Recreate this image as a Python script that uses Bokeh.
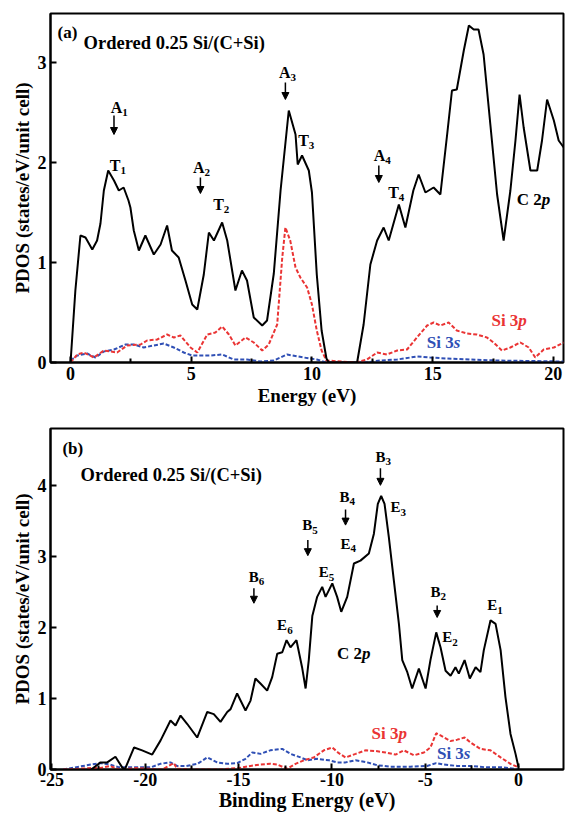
from bokeh.plotting import figure
from bokeh.layouts import column
from bokeh.models import (Range1d, FixedTicker, Arrow, NormalHead, ColumnDataSource)
from bokeh.core.properties import value
from bokeh.embed import file_html
from bokeh.resources import INLINE

# ---------------- data: panel (a) ----------------
a_c2p_e = [0, 0.2, 0.41, 0.62, 0.9, 1.1, 1.24, 1.38, 1.56, 1.8, 2.0, 2.2, 2.4, 2.48, 2.62, 2.83,
           3.1, 3.45, 3.73, 4.0, 4.2, 4.48, 4.76, 5.04, 5.25, 5.52, 5.73, 5.94, 6.28, 6.49, 6.83,
           7.1, 7.31, 7.59, 7.94, 8.14, 8.42, 8.7, 9.04, 9.32, 9.41, 9.59, 9.87, 10.0, 10.2, 10.4,
           10.6, 10.7, 11.87, 12.14, 12.42, 12.7, 12.97, 13.18, 13.6, 13.87, 14.2, 14.42, 14.7,
           15.04, 15.32, 15.6, 15.8, 16.0, 16.29, 16.5, 16.7, 16.9, 17.11, 17.39, 17.67, 17.94,
           18.22, 18.43, 18.6, 18.77, 19.05, 19.33, 19.53, 19.74, 20.02, 20.22, 20.43]
a_c2p_v = [0, 0.72, 1.27, 1.25, 1.13, 1.22, 1.39, 1.72, 1.92, 1.82, 1.72, 1.75, 1.62, 1.55, 1.32, 1.12,
           1.27, 1.08, 1.18, 1.37, 1.12, 1.05, 0.82, 0.58, 0.53, 0.88, 1.3, 1.22, 1.4, 1.22, 0.72,
           0.92, 0.82, 0.45, 0.37, 0.42, 0.89, 1.72, 2.52, 2.28, 1.98, 2.07, 1.92, 1.7, 0.88, 0.32,
           0.04, 0, 0, 0.38, 0.98, 1.22, 1.35, 1.22, 1.58, 1.35, 1.72, 1.88, 1.70,
           1.75, 1.68, 2.28, 2.72, 2.73, 3.12, 3.37, 3.33, 3.33, 3.08, 2.38, 1.68, 1.22,
           1.72, 2.22, 2.68, 2.35, 1.92, 1.92, 2.22, 2.63, 2.42, 2.22, 2.15]

a_si3p_e = [0, 0.28, 0.55, 0.97, 1.38, 1.93, 2.34, 2.9, 3.17, 3.59, 4.0, 4.28, 4.55, 4.97, 5.25, 5.66,
            6.0, 6.28, 6.56, 6.83, 7.25, 7.59, 7.94, 8.21, 8.56, 8.77, 8.9, 9.1, 9.32, 9.52, 9.8,
            10.0, 10.2, 10.4, 10.6, 11.8, 12.28, 12.7, 13.1, 13.53, 13.94, 14.35, 14.77, 15.04,
            15.32, 15.66, 16.0, 16.41, 16.83, 17.25, 17.52, 17.87, 18.22, 18.63, 18.98, 19.25,
            19.6, 20.02, 20.43]
a_si3p_v = [0, 0.08, 0.10, 0.05, 0.12, 0.10, 0.17, 0.18, 0.22, 0.23, 0.28, 0.25, 0.27, 0.15, 0.10, 0.28,
            0.30, 0.36, 0.28, 0.17, 0.25, 0.20, 0.12, 0.18, 0.38, 1.05, 1.35, 1.22, 0.95, 0.85, 0.75,
            0.58, 0.32, 0.12, 0.02, 0, 0.03, 0.10, 0.08, 0.12, 0.13, 0.25, 0.37, 0.40,
            0.37, 0.40, 0.32, 0.29, 0.28, 0.25, 0.20, 0.12, 0.15, 0.20, 0.15, 0.05,
            0.13, 0.15, 0.20]

a_si3s_e = [0, 0.28, 0.69, 1.03, 1.38, 1.8, 2.28, 2.62, 3.03, 3.45, 3.86, 4.28, 4.69, 5.04, 5.38, 5.8,
            6.28, 6.76, 7.31, 7.87, 8.42, 8.97, 9.66, 10.2, 10.6, 12.2, 12.84, 13.53, 14.35, 14.9,
            15.6, 16.55, 17.66, 20.43]
a_si3s_v = [0.02, 0.07, 0.09, 0.05, 0.11, 0.13, 0.18, 0.18, 0.15, 0.17, 0.19, 0.15, 0.10, 0.07, 0.07, 0.07,
            0.08, 0.03, 0.03, 0.01, 0.02, 0.08, 0.05, 0.03, 0.0, 0.0, 0.02, 0.03, 0.06, 0.05,
            0.04, 0.03, 0.02, 0.01]

# ---------------- data: panel (b) ----------------
b_c2p_e = [-22.9, -22.4, -22.04, -21.6, -21.24, -21.1, -20.6, -20.17, -19.63, -19.18, -18.65, -18.38,
           -18.11, -17.75, -17.22, -16.68, -16.33, -15.97, -15.61, -15.43, -15.08, -14.63, -14.36,
           -14.1, -13.83, -13.47, -13.2, -12.93, -12.66, -12.43, -12.22, -11.9, -11.6, -11.41,
           -11.24, -11.05, -10.79, -10.52, -10.34, -9.98, -9.72, -9.5, -9.18, -8.82, -8.47, -8.02,
           -7.75, -7.54, -7.36, -7.18, -6.95, -6.68, -6.41, -6.23, -5.96, -5.7, -5.34, -4.98,
           -4.72, -4.41, -4.18, -3.91, -3.64, -3.38, -3.2, -2.89, -2.61, -2.3, -2.04, -1.86, -1.5,
           -1.23, -0.96, -0.7, -0.43, -0.16, 0.0]
b_c2p_v = [0.0, 0.1, 0.1, 0.18, 0.03, 0.0, 0.31, 0.27, 0.21, 0.41, 0.69, 0.62,
           0.76, 0.64, 0.45, 0.81, 0.78, 0.67, 0.81, 0.85, 1.07, 0.83, 0.97,
           1.28, 1.21, 1.11, 1.30, 1.63, 1.65, 1.82, 1.72, 1.82, 1.44, 1.14,
           1.54, 2.16, 2.43, 2.57, 2.43, 2.62, 2.43, 2.22, 2.43, 2.90, 2.94, 3.04,
           3.32, 3.74, 3.85, 3.74, 3.27, 2.66, 2.05, 1.54, 1.37, 1.14, 1.42, 1.14,
           1.54, 1.93, 1.72, 1.39, 1.32, 1.44, 1.35, 1.54, 1.28, 1.44, 1.37, 1.68, 2.10,
           2.05, 1.68, 1.02, 0.50, 0.22, 0.03]

b_si3p_e = [-24.4, -22.9, -22.4, -21.9, -21.4, -20.5, -19.1, -18.47, -18.3, -17.5, -16.1, -15.0,
            -14.36, -13.83, -13.3, -12.93, -12.4, -11.95, -11.5, -10.97, -10.43, -9.98, -9.63,
            -9.27, -8.73, -8.2, -7.66, -7.13, -6.59, -6.15, -5.6, -5.07, -4.72, -4.41, -4.18,
            -3.64, -3.29, -2.89, -2.57, -2.04, -1.5, -0.96, -0.43, 0.0]
b_si3p_v = [0.0, 0.02, 0.02, 0.05, 0.0, 0.02, 0.0, 0.09, 0.01, 0.0, 0.0, 0.02,
            0.05, 0.07, 0.08, 0.07, 0.01, 0.08, 0.13, 0.17, 0.27, 0.31, 0.23,
            0.17, 0.22, 0.27, 0.26, 0.24, 0.21, 0.27, 0.20, 0.24, 0.31, 0.51, 0.48,
            0.40, 0.42, 0.45, 0.38, 0.29, 0.27, 0.17, 0.08, 0.03]

b_si3s_e = [-24.4, -22.9, -22.4, -21.9, -21.4, -19.7, -19.2, -18.65, -18.3, -17.8, -17.2, -16.68,
            -16.15, -15.6, -15.08, -14.63, -14.27, -13.83, -13.3, -12.66, -12.22, -11.68, -11.32,
            -10.79, -10.16, -9.72, -9.27, -8.73, -8.1, -7.57, -6.86, -5.8, -4.9, -4.41, -4.0,
            -3.29, -2.57, -1.7, -0.8, 0.0]
b_si3s_v = [0.0, 0.07, 0.09, 0.07, 0.03, 0.03, 0.08, 0.10, 0.05, 0.05, 0.08, 0.17,
            0.10, 0.08, 0.09, 0.15, 0.24, 0.22, 0.27, 0.29, 0.22, 0.17, 0.13,
            0.15, 0.13, 0.10, 0.10, 0.13, 0.10, 0.06, 0.04, 0.04, 0.05, 0.09, 0.07,
            0.05, 0.05, 0.03, 0.03, 0.0]

# ---------------- ticks ----------------
a_xticks = [0, 5, 10, 15, 20]
a_xlabels = ["0", "5", "10", "15", "20"]
a_xminor = [2.5, 7.5, 12.5, 17.5]
a_yticks = [0, 1, 2, 3]
a_ylabels = ["0", "1", "2", "3"]
b_xticks = [-25, -20, -15, -10, -5, 0]
b_xlabels = ["-25", "-20", "-15", "-10", "-5", "0"]
b_xminor = [-22.5, -17.5, -12.5, -7.5, -2.5]
b_yticks = [0, 1, 2, 3, 4]
b_ylabels = ["0", "1", "2", "3", "4"]

# ---------------- annotations ----------------
a_mark_main = ["A", "T", "A", "T", "A", "T", "A", "T"]
a_mark_sub = ["1", "1", "2", "2", "3", "3", "4", "4"]
a_mark_x = [2.14, 2.07, 5.55, 6.35, 9.11, 9.87, 13.04, 13.6]
a_mark_y = [2.55, 1.97, 1.95, 1.58, 2.90, 2.22, 2.07, 1.70]
a_arrow_x = [1.8, 5.38, 8.9, 12.77]
a_arrow_y0 = [2.47, 1.85, 2.80, 1.97]
a_arrow_y1 = [2.28, 1.69, 2.63, 1.80]

b_mark_main = ["B", "E", "B", "E", "B", "E", "B", "E", "B", "E", "E"]
b_mark_sub = ["6", "6", "5", "5", "4", "4", "3", "3", "2", "2", "1"]
b_mark_x = [-13.92, -12.4, -11.06, -10.17, -9.06, -9.0, -7.13, -6.32, -4.18, -3.55, -1.14]
b_mark_y = [2.71, 2.03, 3.44, 2.78, 3.84, 3.18, 4.40, 3.69, 2.50, 1.86, 2.31]
b_arrow_x = [-14.18, -11.29, -9.27, -7.4, -4.36]
b_arrow_y0 = [2.55, 3.23, 3.66, 4.24, 2.31]
b_arrow_y1 = [2.34, 3.01, 3.44, 4.00, 2.14]

SERIF = "Liberation Serif"
RED = "#ea3434"
BLUE = "#2f4fb5"


def style(p, xt, xl, xm, yt, yl):
    p.outline_line_color = "black"
    p.outline_line_width = 2
    p.grid.visible = False
    p.xaxis.ticker = FixedTicker(ticks=xt, minor_ticks=xm)
    p.xaxis.major_label_overrides = {t: l for t, l in zip(xt, xl)}
    p.yaxis.ticker = FixedTicker(ticks=yt, minor_ticks=[])
    p.yaxis.major_label_overrides = {t: l for t, l in zip(yt, yl)}
    for ax in (p.xaxis[0], p.yaxis[0]):
        ax.axis_line_width = 2
        ax.axis_line_color = "black"
        ax.major_tick_in = 6
        ax.major_tick_out = 0
        ax.major_tick_line_width = 2
        ax.major_tick_line_color = "black"
        ax.minor_tick_in = 4
        ax.minor_tick_out = 0
        ax.minor_tick_line_width = 2
        ax.minor_tick_line_color = "black"
        ax.major_label_text_font = SERIF
        ax.major_label_text_font_style = "bold"
        ax.major_label_text_font_size = "18px"
        ax.major_label_text_color = "black"
        ax.major_label_standoff = 4
        ax.axis_label_text_font = SERIF
        ax.axis_label_text_font_style = "bold"
        ax.axis_label_text_font_size = "19px"
        ax.axis_label_text_color = "black"
        ax.axis_label_standoff = 2
    p.yaxis.axis_label = "PDOS (states/eV/unit cell)"


def marks(p, main, sub, xs, ys, size, subsize):
    src = ColumnDataSource(dict(x=xs, y=ys, m=main, s=sub))
    p.text(x="x", y="y", text="m", source=src, text_font=value(SERIF), text_font_style="bold",
           text_font_size=size, text_align="right", text_baseline="middle", text_color="black")
    p.text(x="x", y="y", text="s", source=src, text_font=value(SERIF), text_font_style="bold",
           text_font_size=subsize, text_align="left", text_baseline="middle", text_color="black",
           y_offset=5)


def arrows(p, xs, y0, y1):
    for x, a, b in zip(xs, y0, y1):
        p.add_layout(Arrow(x_start=x, y_start=a, x_end=x, y_end=b, line_width=1.5, line_color="black",
                           end=NormalHead(size=7, fill_color="black", line_color="black")))


def word(p, x, y, t, color, size, italic_part):
    p.text(x=[x], y=[y], text=[t], text_font=value(SERIF), text_font_style="bold",
           text_font_size=size, text_align="right", text_baseline="middle", text_color=color)
    p.text(x=[x], y=[y], text=[italic_part], text_font=value(SERIF), text_font_style="bold italic",
           text_font_size=size, text_align="left", text_baseline="middle", text_color=color)


def plain(p, x, y, t, size):
    p.text(x=[x], y=[y], text=[t], text_font=value(SERIF), text_font_style="bold",
           text_font_size=size, text_align="left", text_baseline="middle", text_color="black")


# ---------------- panel (a) ----------------
p1 = figure(width=565, height=415, x_range=Range1d(-0.83, 20.42), y_range=Range1d(0, 3.49),
            output_backend="svg", toolbar_location=None,
            min_border_left=50, min_border_right=2, min_border_top=13, min_border_bottom=53)
style(p1, a_xticks, a_xlabels, a_xminor, a_yticks, a_ylabels)
p1.xaxis.axis_label = "Energy (eV)"
p1.line(a_si3s_e, a_si3s_v, line_color=BLUE, line_width=2, line_dash="4 2")
p1.line(a_si3p_e, a_si3p_v, line_color=RED, line_width=2, line_dash="4 2")
p1.line(a_c2p_e, a_c2p_v, line_color="black", line_width=2)
marks(p1, a_mark_main, a_mark_sub, a_mark_x, a_mark_y, "16px", "11px")
arrows(p1, a_arrow_x, a_arrow_y0, a_arrow_y1)
word(p1, 19.52, 1.63, "C 2", "black", "17px", "p")
word(p1, 18.55, 0.42, "Si 3", RED, "17px", "p")
word(p1, 15.87, 0.20, "Si 3", BLUE, "17px", "s")
plain(p1, -0.54, 3.30, "(a)", "17px")
plain(p1, 0.54, 3.20, "Ordered 0.25 Si/(C+Si)", "18.5px")

# ---------------- panel (b) ----------------
p2 = figure(width=565, height=398, x_range=Range1d(-25.08, 2.41), y_range=Range1d(0, 4.8),
            output_backend="svg", toolbar_location=None,
            min_border_left=50, min_border_right=2, min_border_top=13, min_border_bottom=44)
style(p2, b_xticks, b_xlabels, b_xminor, b_yticks, b_ylabels)
p2.xaxis.axis_label = "Binding Energy (eV)"
p2.xaxis.axis_label_standoff = 0
p2.xaxis.major_label_standoff = 3
p2.xaxis.axis_label_text_font_size = "20px"
p2.line(b_si3s_e, b_si3s_v, line_color=BLUE, line_width=2, line_dash="4 2")
p2.line(b_si3p_e, b_si3p_v, line_color=RED, line_width=2, line_dash="4 2")
p2.line(b_c2p_e, b_c2p_v, line_color="black", line_width=2)
marks(p2, b_mark_main, b_mark_sub, b_mark_x, b_mark_y, "15px", "11px")
arrows(p2, b_arrow_x, b_arrow_y0, b_arrow_y1)
word(p2, -8.39, 1.63, "C 2", "black", "17px", "p")
word(p2, -6.43, 0.50, "Si 3", RED, "17px", "p")
word(p2, -2.93, 0.22, "Si 3", BLUE, "17px", "s")
plain(p2, -24.44, 4.52, "(b)", "17px")
plain(p2, -23.47, 4.14, "Ordered 0.25 Si/(C+Si)", "18.5px")

layout = column(p1, p2, spacing=0)
open("out.html", "w").write(file_html(layout, INLINE))
